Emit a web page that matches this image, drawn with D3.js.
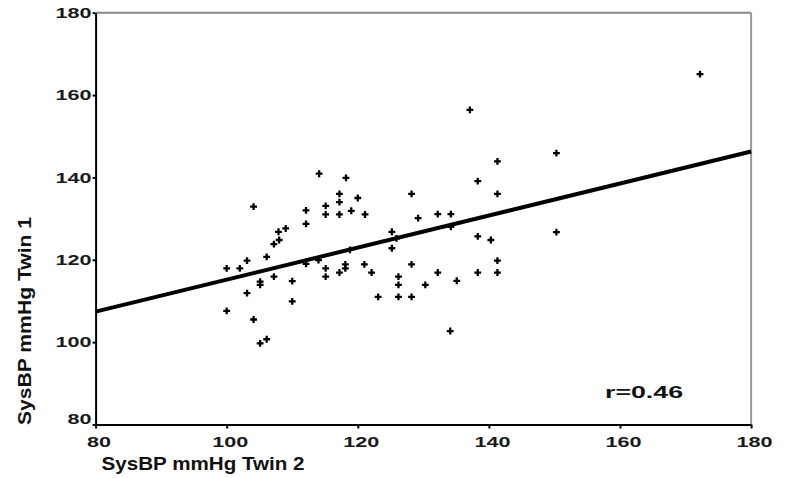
<!DOCTYPE html>
<html>
<head>
<meta charset="utf-8">
<script src="https://cdn.jsdelivr.net/npm/d3@7"></script>
<style>
    body { margin: 0; background: #fff; }
    text { font-family: "Liberation Sans", Arial, sans-serif; font-weight: bold; }
</style>
</head>
<body>
<div id="viz"></div>
<script>
"use strict";
// values
const twin2 = [172.2, 137.1, 150.3, 141.3, 138.3, 128.2, 141.3, 129.2, 132.2, 134.2,
    134.2, 150.3, 138.3, 140.3, 141.3, 128.2, 132.2, 138.3, 141.3, 135.1,
    130.3, 128.2, 134.1, 121.0, 122.1, 126.2, 126.2, 123.1, 126.2, 125.2,
    125.2, 114.1, 118.2, 117.2, 117.2, 120.0, 115.1, 112.1, 115.1, 117.2,
    119.0, 121.1, 112.1, 107.9, 109.0, 108.0, 107.2, 106.1, 103.1, 100.0,
    102.0, 104.1, 105.1, 105.1, 107.2, 110.0, 103.1, 110.0, 100.0, 104.1,
    105.1, 106.1, 112.1, 115.1, 115.1, 117.2, 118.1, 118.1, 114.0, 118.8, 125.9];
const twin1 = [165.1, 156.4, 145.9, 143.9, 139.1, 136.0, 136.0, 130.1, 131.1, 131.1,
    128.0, 126.7, 125.7, 124.8, 119.8, 118.9, 116.9, 116.9, 116.9, 114.9,
    113.9, 111.0, 102.7, 118.9, 116.9, 115.9, 113.9, 111.0, 111.0, 126.8,
    122.8, 140.9, 139.9, 136.0, 134.0, 135.0, 133.1, 132.0, 131.0, 131.0,
    131.9, 131.0, 128.7, 126.8, 127.6, 124.8, 123.8, 120.7, 119.8, 117.9,
    117.9, 132.9, 114.7, 113.9, 115.9, 114.8, 111.9, 109.9, 107.6, 105.5,
    99.7, 100.7, 119.0, 117.9, 115.9, 116.9, 118.9, 117.9, 119.9, 122.4, 125.2];
const fitX = [80, 180];
const fitY = [107.4, 146.3];
const xTicks = [80, 100, 120, 140, 160, 180];
const yTicks = [80, 100, 120, 140, 160, 180];
const xTitle = "SysBP mmHg Twin 2";
const yTitle = "SysBP mmHg Twin 1";
const rLabel = "r=0.46";

const measurements = {
    width: 787,
    height: 478,
    left: 95.6,
    right: 751.1,
    top: 12.7,
    bottom: 424.5
};

const svg = d3.select("#viz").append("svg")
    .attr("width", measurements.width)
    .attr("height", measurements.height);

const scaleX = d3.scaleLinear().domain([80, 180]).range([measurements.left, measurements.right]);
const scaleY = d3.scaleLinear().domain([80, 180]).range([measurements.bottom, measurements.top]);

// frame top / right (grey)
svg.append("line")
    .attr("x1", scaleX(80)).attr("x2", scaleX(180))
    .attr("y1", scaleY(180)).attr("y2", scaleY(180))
    .attr("stroke", "#888").attr("stroke-width", 2);
svg.append("line")
    .attr("x1", scaleX(180)).attr("x2", scaleX(180))
    .attr("y1", scaleY(180)).attr("y2", scaleY(80))
    .attr("stroke", "#999").attr("stroke-width", 2);

// axes
const xAxis = svg.append("g")
    .attr("transform", "translate(0," + measurements.bottom + ")")
    .call(d3.axisBottom(scaleX).tickValues(xTicks).tickSize(4).tickSizeOuter(0).tickPadding(8));
const yAxis = svg.append("g")
    .attr("transform", "translate(" + measurements.left + ",0)")
    .call(d3.axisLeft(scaleY).tickValues(yTicks).tickSize(3).tickSizeOuter(0).tickPadding(1));

[xAxis, yAxis].forEach(function (ax) {
    ax.select(".domain").attr("stroke", "#000").attr("stroke-width", 2);
    ax.selectAll(".tick line").attr("stroke", "#000").attr("stroke-width", 2);
    ax.selectAll(".tick text")
        .attr("fill", "#1a1a1a")
        .style("font-size", "15px")
        .attr("textLength", function (d) { return String(d).length * 12; })
        .attr("lengthAdjust", "spacingAndGlyphs");
});
xAxis.selectAll(".tick text").attr("dx", 3);
yAxis.selectAll(".tick text").filter(function (d) { return d === 80; }).attr("dy", "-0.1em");

// regression line
svg.append("line")
    .attr("x1", scaleX(fitX[0])).attr("y1", scaleY(fitY[0]))
    .attr("x2", scaleX(fitX[1])).attr("y2", scaleY(fitY[1]))
    .attr("stroke", "#000").attr("stroke-width", 4);

// points
const cross = d3.symbol().type(d3.symbolCross).size(26);
svg.selectAll(".pt")
    .data(twin2.map(function (x, i) { return { x: x, y: twin1[i] }; }))
    .enter()
    .append("path")
    .attr("class", "pt")
    .attr("d", cross)
    .attr("fill", "#000")
    .attr("transform", function (d) { return "translate(" + scaleX(d.x) + "," + scaleY(d.y) + ")"; });

// labels
svg.append("text")
    .attr("x", measurements.left + 6)
    .attr("y", 470)
    .style("font-size", "19px")
    .attr("textLength", 203)
    .attr("lengthAdjust", "spacingAndGlyphs")
    .attr("fill", "#111")
    .text(xTitle);

svg.append("text")
    .attr("transform", "translate(31,425) rotate(-90)")
    .style("font-size", "19px")
    .attr("textLength", 208)
    .attr("lengthAdjust", "spacingAndGlyphs")
    .attr("fill", "#111")
    .text(yTitle);

svg.append("text")
    .attr("x", 605)
    .attr("y", 398)
    .style("font-size", "16px")
    .attr("textLength", 78)
    .attr("lengthAdjust", "spacingAndGlyphs")
    .attr("fill", "#111")
    .text(rLabel);
</script>
</body>
</html>
